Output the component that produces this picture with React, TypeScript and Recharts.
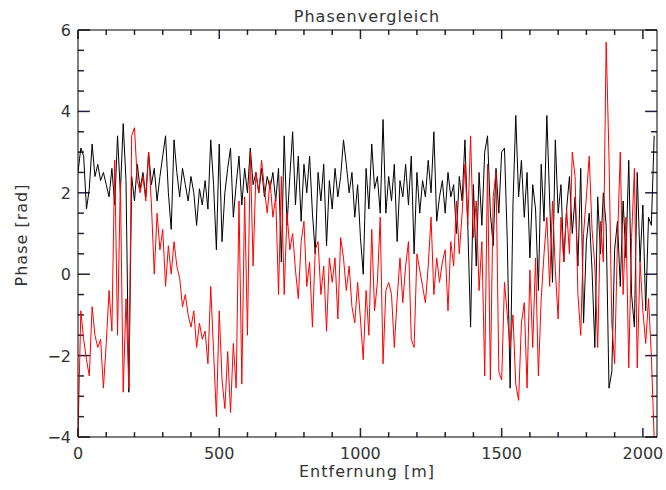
import React from 'react';
import { LineChart, Line, XAxis, YAxis, ReferenceLine } from 'recharts';

// sampling step along the distance axis (m)
const STEP_M = 10;

// Phase of the black series [rad], one value every 10 m from 0 m
const blackPhase: number[] = [
  2.5, 3.1, 2.9, 1.6, 2.1, 3.2, 2.4, 2.7, 2.3, 2.5,
  2.2, 1.9, 2.6, 1.7, 3.4, 2.0, 3.7, 2.3, -2.9, 2.4,
  1.8, 2.7, 2.1, 2.5, 1.9, 3.0, 2.2, 2.6, 1.8, 2.4,
  2.9, 3.4, 2.0, 1.1, 3.3, 2.5, 1.9, 2.6, 2.2, 1.8,
  2.4, 2.0, 1.2, 2.1, 1.7, 2.3, 1.6, 3.3, 2.2, 0.6,
  3.2, 0.8, 2.0, 2.6, 3.1, 1.4, 2.2, 2.9, 1.7, 2.6,
  2.0, 3.1, 2.2, 2.5, 2.0, 2.6, 1.9, 2.4, 2.1, 2.5,
  1.8, 2.6, 0.3, 3.4, 1.2, 2.4, 3.5, 1.7, 2.9, 1.3,
  2.7, 2.0, 2.9, 1.5, 0.5, 2.5, 1.8, 2.7, 0.7, 2.3,
  1.6, 2.6, 1.9, 2.4, 3.3, 2.7, 2.0, 2.5, 1.4, 2.2,
  0.9, 0.0, 2.6, 1.6, 3.2, 2.1, 2.4, 1.5, 3.8, 1.5,
  2.4, 1.8, 2.7, 0.8, 2.3, 1.9, 2.7, 1.7, 2.9, 0.5,
  2.5, 1.5, 2.3, 1.9, 2.8, 2.0, 3.5, 1.3, 1.9, 2.3,
  1.5, 2.5, 1.9, 2.2, 1.0, 2.4, 1.8, 3.3, 1.2, -1.3,
  2.2, 0.2, 2.5, 1.2, 3.0, 3.4, 1.5, 0.7, 2.6, 1.5,
  3.0, 3.1, 0.8, -2.8, 1.7, 3.9, 1.9, 2.8, 1.4, 2.5,
  0.4, 2.2, 1.6, -0.4, 2.7, 1.3, 3.9, 1.8, -0.2, 3.3,
  1.5, 2.2, 0.3, 1.6, 2.4, 1.0, 1.9, 0.2, 2.6, -1.2,
  0.8, 1.5, 0.1, -1.8, 1.9, 0.5, 2.0, 1.2, -2.8, -2.4,
  0.6, 1.3, -0.3, 1.8, 0.4, 2.8, -0.5, -1.3, 2.5, 0.3,
  1.7, -0.9, 1.4, 1.2, 3.4,
];

// Phase of the red series [rad], one value every 10 m from 0 m
const redPhase: number[] = [
  -4.05, -0.9, -1.6, -2.1, -2.5, -0.8, -1.5, -1.8, -1.6, -2.8,
  -1.7, -0.4, -1.4, 2.8, -1.5, 2.3, -2.9, -0.6, -2.8, 3.4,
  3.6, 2.3, 2.0, 2.4, 1.8, 3.0, 1.7, 0.0, 1.5, 0.6,
  1.1, -0.3, 0.7, 0.0, 0.8, 0.2, -0.1, -0.8, -0.5, -1.0,
  -1.3, -0.9, -1.8, -1.2, -1.6, -1.4, -2.2, -0.3, -1.9, -3.5,
  -0.9, -2.6, -3.3, -1.9, -3.4, -1.7, -2.8, 1.8, -2.7, 1.9,
  -1.5, 3.0, 0.2, 2.5, 2.0, 2.8, 2.1, 1.5, 2.3, 1.4,
  1.9, -0.5, 2.4, -0.5, 1.5, 0.6, 1.0, 0.1, -0.6, 0.8,
  1.3, -0.3, 0.3, -1.3, 0.6, 0.8, -0.5, 0.2, -1.4, 0.4,
  -0.2, 0.4, -1.1, 0.9, 0.4, -0.4, 0.2, -0.8, -1.2, -0.2,
  -1.1, -2.1, -0.4, -1.5, 1.1, -0.9, -0.2, 1.4, -2.2, -0.4,
  -0.2, -0.5, -1.8, -0.6, 0.4, -0.7, 0.2, 0.8, -1.6, -1.8,
  0.5, 0.1, -0.3, -0.7, 0.2, 1.4, -0.5, 0.4, -0.2, 0.3,
  0.6, -0.9, 0.8, 0.2, 1.8, 0.5, 1.5, 2.7, 1.2, 3.4,
  0.9, 1.8, -0.4, 0.8, -2.5, 2.7, -2.6, 1.9, 2.5, -2.4,
  -2.6, -0.2, -1.0, -1.8, -1.0, -2.7, -3.1, -1.2, -0.7, -2.8,
  0.1, -1.8, 0.4, -2.5, -0.6, 0.5, 1.4, -0.3, 1.8, 0.1,
  -1.1, 1.4, 0.3, 1.6, 0.5, 3.0, 2.4, -0.5, -1.5, 1.0,
  1.9, 2.9, 1.1, 0.2, -1.8, 1.3, 0.3, 5.7, 2.9, -1.2,
  -2.2, 0.8, 3.0, -0.5, 1.4, -2.3, 0.9, 2.6, -2.3, 0.3,
  -0.9, -1.7, -0.6, -2.0, -4.05,
];

const xTicks = [0, 100, 200, 300, 400, 500, 600, 700, 800, 900, 1000,
  1100, 1200, 1300, 1400, 1500, 1600, 1700, 1800, 1900, 2000];
const xMajorTicks = [0, 500, 1000, 1500, 2000];
const yTicks = [-4, -3.5, -3, -2.5, -2, -1.5, -1, -0.5, 0, 0.5, 1, 1.5, 2,
  2.5, 3, 3.5, 4, 4.5, 5, 5.5, 6];
const yMajorTicks = [-4, -2, 0, 2, 4, 6];

const TITLE = 'Phasenvergleich';
const X_LABEL = 'Entfernung [m]';
const Y_LABEL = 'Phase [rad]';

const X_MIN = 0;
const X_MAX = 2050;
const Y_MIN = -4;
const Y_MAX = 6;

// inward tick lengths expressed in axis units
const X_TICK_MAJOR = 0.22; // rad (~9 px)
const X_TICK_MINOR = 0.12; // rad (~5 px)
const Y_TICK_MAJOR = 42; // m (~12 px)
const Y_TICK_MINOR = 21; // m (~6 px)

const data = blackPhase.map((b, i) => ({ m: i * STEP_M, black: b, red: redPhase[i] }));

const FONT = '"DejaVu Sans", sans-serif';
const TEXT_COLOR = '#333';

const fmt = (v: number) => (v < 0 ? '\u2212' + Math.abs(v) : String(v));

const BottomTick = (p: any) => {
  if (!xMajorTicks.includes(p.payload.value)) return <g />;
  return (
    <text x={p.x} y={p.y + 22} textAnchor="middle" fontFamily={FONT} fontSize={16} fill={TEXT_COLOR}>
      {fmt(p.payload.value)}
    </text>
  );
};

const LeftTick = (p: any) => {
  if (!yMajorTicks.includes(p.payload.value)) return <g />;
  return (
    <text x={p.x - 7} y={p.y + 6} textAnchor="end" fontFamily={FONT} fontSize={16} fill={TEXT_COLOR}>
      {fmt(p.payload.value)}
    </text>
  );
};

const NoTick = () => <g />;

const labelStyle: React.CSSProperties = {
  position: 'absolute',
  fontFamily: FONT,
  fontSize: 16,
  letterSpacing: 1,
  color: TEXT_COLOR,
  whiteSpace: 'nowrap',
  transform: 'translate(-50%, -50%)',
  lineHeight: 1,
};

const TICK_COLOR = '#202040';
const TICK_WIDTH = 1.5;

export default function App() {
  return (
    <div style={{ position: 'absolute', left: 0, top: 0, width: 666, height: 490, background: '#fff' }}>
      <LineChart width={666} height={490} data={data} margin={{ top: 0, right: 0, bottom: 0, left: 0 }}>
        <XAxis xAxisId="bottom" dataKey="m" type="number" domain={[X_MIN, X_MAX]} allowDataOverflow
          ticks={xTicks} interval={0} height={53} tickSize={0} tickMargin={0} tickLine={false}
          axisLine={{ stroke: '#000' }} tick={BottomTick} />
        <XAxis xAxisId="top" orientation="top" dataKey="m" type="number" domain={[X_MIN, X_MAX]} allowDataOverflow
          ticks={xTicks} interval={0} height={30} tickSize={0} tickMargin={0} tickLine={false}
          axisLine={{ stroke: '#000' }} tick={NoTick} />
        <YAxis yAxisId="left" type="number" domain={[Y_MIN, Y_MAX]} allowDataOverflow
          ticks={yTicks} interval={0} width={78} tickSize={0} tickMargin={0} tickLine={false}
          axisLine={{ stroke: '#000' }} tick={LeftTick} />
        <YAxis yAxisId="right" orientation="right" type="number" domain={[Y_MIN, Y_MAX]} allowDataOverflow
          ticks={yTicks} interval={0} width={9} tickSize={0} tickMargin={0} tickLine={false}
          axisLine={{ stroke: '#000' }} tick={NoTick} />
        <Line xAxisId="top" yAxisId="right" dataKey="black" stroke="#000" strokeOpacity={0}
          dot={false} activeDot={false} isAnimationActive={false} />
        {xTicks.map((t) => (
          <ReferenceLine key={`xb${t}`} xAxisId="bottom" yAxisId="left" ifOverflow="extendDomain"
            segment={[{ x: t, y: Y_MIN }, { x: t, y: Y_MIN + (xMajorTicks.includes(t) ? X_TICK_MAJOR : X_TICK_MINOR) }]}
            stroke={TICK_COLOR} strokeWidth={TICK_WIDTH} />
        ))}
        {xTicks.map((t) => (
          <ReferenceLine key={`xt${t}`} xAxisId="bottom" yAxisId="left" ifOverflow="extendDomain"
            segment={[{ x: t, y: Y_MAX }, { x: t, y: Y_MAX - (xMajorTicks.includes(t) ? X_TICK_MAJOR : X_TICK_MINOR) }]}
            stroke={TICK_COLOR} strokeWidth={TICK_WIDTH} />
        ))}
        {yTicks.map((t) => (
          <ReferenceLine key={`yl${t}`} xAxisId="bottom" yAxisId="left" ifOverflow="extendDomain"
            segment={[{ x: X_MIN, y: t }, { x: X_MIN + (yMajorTicks.includes(t) ? Y_TICK_MAJOR : Y_TICK_MINOR), y: t }]}
            stroke={TICK_COLOR} strokeWidth={TICK_WIDTH} />
        ))}
        {yTicks.map((t) => (
          <ReferenceLine key={`yr${t}`} xAxisId="bottom" yAxisId="left" ifOverflow="extendDomain"
            segment={[{ x: X_MAX, y: t }, { x: X_MAX - (yMajorTicks.includes(t) ? Y_TICK_MAJOR : Y_TICK_MINOR), y: t }]}
            stroke={TICK_COLOR} strokeWidth={TICK_WIDTH} />
        ))}
        <Line xAxisId="bottom" yAxisId="left" type="linear" dataKey="black" stroke="#000000" strokeWidth={1}
          dot={false} activeDot={false} isAnimationActive={false} />
        <Line xAxisId="bottom" yAxisId="left" type="linear" dataKey="red" stroke="#ff0000" strokeWidth={1}
          dot={false} activeDot={false} isAnimationActive={false} />
      </LineChart>
      <div style={{ ...labelStyle, left: 367, top: 17 }}>{TITLE}</div>
      <div style={{ ...labelStyle, left: 367, top: 472 }}>{X_LABEL}</div>
      <div style={{ ...labelStyle, left: 22, top: 235, transform: 'translate(-50%, -50%) rotate(-90deg)' }}>
        {Y_LABEL}
      </div>
    </div>
  );
}
